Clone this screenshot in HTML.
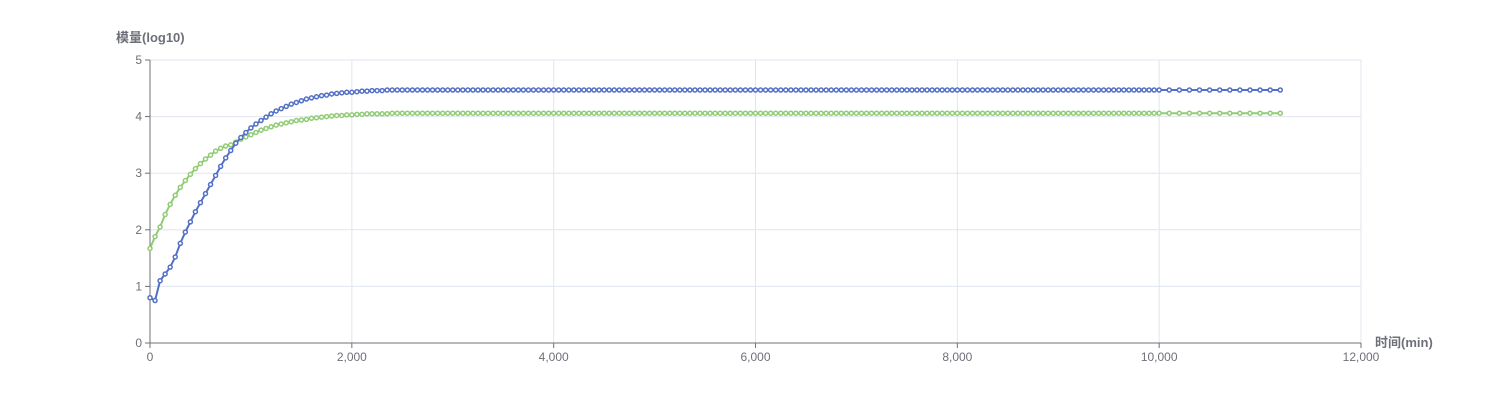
<!DOCTYPE html>
<html><head><meta charset="utf-8"><style>
body{margin:0;background:#fff;}
svg{display:block;font-family:"Liberation Sans","Noto Sans CJK SC",sans-serif;}
</style></head><body>
<svg id="chart" width="1512" height="414"></svg>
<script>
const xTicks=[0,2000,4000,6000,8000,10000,12000];
const yTicks=[0,1,2,3,4,5];
const timesEarly=[0,50,100,150,200,250,300,350,400,450,500,550,600,650,700,750,800,850,900,950,1000,1050,1100,1150,1200,1250,1300,1350,1400,1450,1500,1550,1600,1650,1700,1750,1800,1850,1900,1950,2000,2050,2100,2150,2200,2250,2300,2350,2400,2450,2500];
const blueEarly=[0.80,0.75,1.10,1.22,1.34,1.52,1.76,1.96,2.14,2.32,2.48,2.64,2.80,2.96,3.12,3.27,3.40,3.53,3.63,3.72,3.80,3.87,3.93,3.99,4.05,4.10,4.14,4.18,4.22,4.25,4.28,4.31,4.33,4.35,4.37,4.38,4.40,4.41,4.42,4.43,4.43,4.44,4.45,4.45,4.46,4.46,4.46,4.47,4.47,4.47,4.47];
const greenEarly=[1.67,1.88,2.05,2.27,2.45,2.61,2.75,2.87,2.98,3.08,3.17,3.25,3.32,3.39,3.44,3.48,3.50,3.55,3.60,3.64,3.68,3.72,3.76,3.79,3.82,3.85,3.87,3.89,3.91,3.93,3.94,3.95,3.97,3.98,3.99,4.00,4.01,4.02,4.02,4.03,4.03,4.04,4.04,4.05,4.05,4.05,4.05,4.05,4.06,4.06,4.06];
const timesLate=[2550,2600,2650,2700,2750,2800,2850,2900,2950,3000,3050,3100,3150,3200,3250,3300,3350,3400,3450,3500,3550,3600,3650,3700,3750,3800,3850,3900,3950,4000,4050,4100,4150,4200,4250,4300,4350,4400,4450,4500,4550,4600,4650,4700,4750,4800,4850,4900,4950,5000,5050,5100,5150,5200,5250,5300,5350,5400,5450,5500,5550,5600,5650,5700,5750,5800,5850,5900,5950,6000,6050,6100,6150,6200,6250,6300,6350,6400,6450,6500,6550,6600,6650,6700,6750,6800,6850,6900,6950,7000,7050,7100,7150,7200,7250,7300,7350,7400,7450,7500,7550,7600,7650,7700,7750,7800,7850,7900,7950,8000,8050,8100,8150,8200,8250,8300,8350,8400,8450,8500,8550,8600,8650,8700,8750,8800,8850,8900,8950,9000,9050,9100,9150,9200,9250,9300,9350,9400,9450,9500,9550,9600,9650,9700,9750,9800,9850,9900,9950,10000,10100,10200,10300,10400,10500,10600,10700,10800,10900,11000,11100,11200];
const blueLate=[
4.47,4.47,4.47,4.47,4.47,4.47,4.47,4.47,4.47,4.47,
4.47,4.47,4.47,4.47,4.47,4.47,4.47,4.47,4.47,4.47,
4.47,4.47,4.47,4.47,4.47,4.47,4.47,4.47,4.47,4.47,
4.47,4.47,4.47,4.47,4.47,4.47,4.47,4.47,4.47,4.47,
4.47,4.47,4.47,4.47,4.47,4.47,4.47,4.47,4.47,4.47,
4.47,4.47,4.47,4.47,4.47,4.47,4.47,4.47,4.47,4.47,
4.47,4.47,4.47,4.47,4.47,4.47,4.47,4.47,4.47,4.47,
4.47,4.47,4.47,4.47,4.47,4.47,4.47,4.47,4.47,4.47,
4.47,4.47,4.47,4.47,4.47,4.47,4.47,4.47,4.47,4.47,
4.47,4.47,4.47,4.47,4.47,4.47,4.47,4.47,4.47,4.47,
4.47,4.47,4.47,4.47,4.47,4.47,4.47,4.47,4.47,4.47,
4.47,4.47,4.47,4.47,4.47,4.47,4.47,4.47,4.47,4.47,
4.47,4.47,4.47,4.47,4.47,4.47,4.47,4.47,4.47,4.47,
4.47,4.47,4.47,4.47,4.47,4.47,4.47,4.47,4.47,4.47,
4.47,4.47,4.47,4.47,4.47,4.47,4.47,4.47,4.47,4.47,
4.47,4.47,4.47,4.47,4.47,4.47,4.47,4.47,4.47,4.47,
4.47,4.47];
const greenLate=[
4.06,4.06,4.06,4.06,4.06,4.06,4.06,4.06,4.06,4.06,
4.06,4.06,4.06,4.06,4.06,4.06,4.06,4.06,4.06,4.06,
4.06,4.06,4.06,4.06,4.06,4.06,4.06,4.06,4.06,4.06,
4.06,4.06,4.06,4.06,4.06,4.06,4.06,4.06,4.06,4.06,
4.06,4.06,4.06,4.06,4.06,4.06,4.06,4.06,4.06,4.06,
4.06,4.06,4.06,4.06,4.06,4.06,4.06,4.06,4.06,4.06,
4.06,4.06,4.06,4.06,4.06,4.06,4.06,4.06,4.06,4.06,
4.06,4.06,4.06,4.06,4.06,4.06,4.06,4.06,4.06,4.06,
4.06,4.06,4.06,4.06,4.06,4.06,4.06,4.06,4.06,4.06,
4.06,4.06,4.06,4.06,4.06,4.06,4.06,4.06,4.06,4.06,
4.06,4.06,4.06,4.06,4.06,4.06,4.06,4.06,4.06,4.06,
4.06,4.06,4.06,4.06,4.06,4.06,4.06,4.06,4.06,4.06,
4.06,4.06,4.06,4.06,4.06,4.06,4.06,4.06,4.06,4.06,
4.06,4.06,4.06,4.06,4.06,4.06,4.06,4.06,4.06,4.06,
4.06,4.06,4.06,4.06,4.06,4.06,4.06,4.06,4.06,4.06,
4.06,4.06,4.06,4.06,4.06,4.06,4.06,4.06,4.06,4.06,
4.06,4.06];

const NS='http://www.w3.org/2000/svg';
const svg=document.getElementById('chart');
const X0=150,X1=1361,Y0=343,Y1=60;
const xs=v=>X0+(v-0)/12000*(X1-X0);
const ys=v=>Y0-(v-0)/5*(Y0-Y1);
function mk(tag,attrs,parent){const e=document.createElementNS(NS,tag);for(const k in attrs)e.setAttribute(k,attrs[k]);(parent||svg).appendChild(e);return e;}
const times=timesEarly.concat(timesLate);
const blue=blueEarly.concat(blueLate);
const green=greenEarly.concat(greenLate);

yTicks.forEach(t=>{
  if(t>0){const g=mk('line',{x1:X0,x2:X1,y1:ys(t),y2:ys(t),stroke:'#e0e6f1','stroke-width':1});
  
  }
  const tk=mk('line',{x1:X0-5,x2:X0,y1:ys(t),y2:ys(t),stroke:'#6e7079'});
  
  
  const l=mk('text',{x:X0-8,y:ys(t)+4,'text-anchor':'end','font-size':12,fill:'#6e7079'});
  l.textContent=t;
  
  
});
xTicks.forEach(t=>{
  if(t>0){const g=mk('line',{x1:xs(t),x2:xs(t),y1:Y1,y2:Y0,stroke:'#e0e6f1','stroke-width':1});
  
  }
  const tk=mk('line',{x1:xs(t),x2:xs(t),y1:Y0,y2:Y0+5,stroke:'#6e7079'});
  
  
  const l=mk('text',{x:xs(t),y:Y0+18,'text-anchor':'middle','font-size':12,fill:'#6e7079'});
  l.textContent=t.toLocaleString('en-US');
  
  
});
const ya=mk('line',{x1:X0,x2:X0,y1:Y1,y2:Y0,stroke:'#6e7079'});


const xa=mk('line',{x1:X0,x2:X1,y1:Y0,y2:Y0,stroke:'#6e7079'});



const yt=mk('text',{x:116,y:42,'font-size':13,'font-weight':'bold',fill:'#6e7079'});
yt.textContent='模量(log10)';


const xt=mk('text',{x:1375,y:347,'font-size':13,'font-weight':'bold',fill:'#6e7079'});
xt.textContent='时间(min)';



function series(vals,color,name){
  const g=mk('g',{});
  
  
  const n=Math.min(vals.length,times.length);
  let d='';
  for(let i=0;i<n;i++) d+=(i?'L':'M')+xs(times[i]).toFixed(2)+','+ys(vals[i]).toFixed(2);
  const p=mk('path',{d:d,fill:'none',stroke:color,'stroke-width':2},g);
  
  
  for(let i=0;i<n;i++){
    const c=mk('circle',{cx:xs(times[i]),cy:ys(vals[i]),r:2,fill:'#fff',stroke:color,'stroke-width':1.5},g);
    
    
  }
}
series(green,'#91cc75','green-series');
series(blue,'#5470c6','blue-series');
</script>
</body></html>
